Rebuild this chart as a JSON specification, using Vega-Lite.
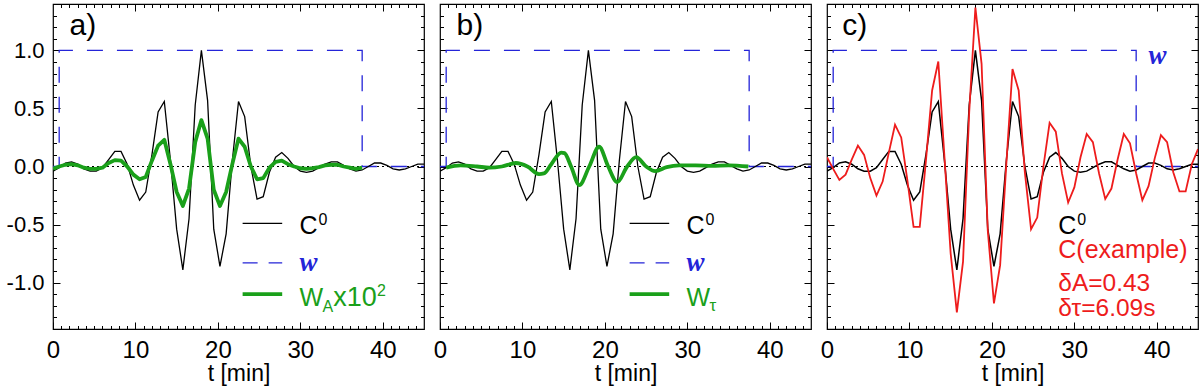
{
  "$schema": "https://vega.github.io/schema/vega-lite/v6.json",
  "padding": {"left": 5, "top": 2, "right": 0, "bottom": 0},
  "spacing": 16,
  "bounds": "flush",
  "config": {
    "view": {"stroke": "black", "strokeWidth": 1.2},
    "font": "Liberation Sans",
    "axis": {"domainColor": "black", "tickColor": "black", "labelColor": "black", "titleColor": "black", "grid": false, "labelFont": "Liberation Sans", "titleFont": "Liberation Sans", "titleFontWeight": "normal", "labelFontSize": 22, "titleFontSize": 23, "tickWidth": 1, "labelOverlap": false, "labelFlush": false, "domain": false, "title": null, "minExtent": 0}
  },
  "datasets": {
    "one": [{}],
    "c0": [
      {"t":0,"v":-0.04},{"t":0.75,"v":-0.01},{"t":1.5,"v":0.03},{"t":2.25,"v":0.04},{"t":3,"v":0.02},{"t":3.75,"v":-0.02},{"t":4.5,"v":-0.04},{"t":5.25,"v":-0.04},{"t":6,"v":-0.01},{"t":6.75,"v":0.06},{"t":7.5,"v":0.13},{"t":8.25,"v":0.13},{"t":9,"v":0.02},{"t":9.75,"v":-0.16},{"t":10.5,"v":-0.29},{"t":11.25,"v":-0.22},{"t":12,"v":0.1},{"t":12.75,"v":0.47},{"t":13.5,"v":0.56},{"t":14.25,"v":0.05},{"t":15,"v":-0.54},{"t":15.75,"v":-0.89},{"t":16.5,"v":-0.45},{"t":17.25,"v":0.53},{"t":18,"v":1.0},{"t":18.75,"v":0.57},{"t":19.5,"v":-0.54},{"t":20.25,"v":-0.86},{"t":21,"v":-0.58},{"t":21.75,"v":0.05},{"t":22.5,"v":0.56},{"t":23.25,"v":0.43},{"t":24,"v":0.0},{"t":24.75,"v":-0.28},{"t":25.5,"v":-0.26},{"t":26.25,"v":-0.05},{"t":27,"v":0.08},{"t":27.75,"v":0.12},{"t":28.5,"v":0.07},{"t":29.25,"v":0.0},{"t":30,"v":-0.04},{"t":30.75,"v":-0.05},{"t":31.5,"v":-0.04},{"t":32.25,"v":-0.01},{"t":33,"v":0.02},{"t":33.75,"v":0.04},{"t":34.5,"v":0.04},{"t":35.25,"v":0.01},{"t":36,"v":-0.02},{"t":36.75,"v":-0.04},{"t":37.5,"v":-0.03},{"t":38.25,"v":0.0},{"t":39,"v":0.03},{"t":39.75,"v":0.03},{"t":40.5,"v":0.01},{"t":41.25,"v":-0.02},{"t":42,"v":-0.03},{"t":42.75,"v":-0.02},{"t":43.5,"v":0.0},{"t":44.25,"v":0.02},{"t":45,"v":0.02}
    ],
    "wa": [
      {"t":0,"v":-0.02},{"t":0.75,"v":0.0},{"t":1.5,"v":0.015},{"t":2.25,"v":0.02},{"t":3,"v":0.01},{"t":3.75,"v":-0.01},{"t":4.5,"v":-0.02},{"t":5.25,"v":-0.02},{"t":6,"v":-0.01},{"t":6.75,"v":0.03},{"t":7.5,"v":0.055},{"t":8.25,"v":0.05},{"t":9,"v":0.0},{"t":9.75,"v":-0.07},{"t":10.5,"v":-0.11},{"t":11.25,"v":-0.09},{"t":12,"v":0.05},{"t":12.75,"v":0.18},{"t":13.5,"v":0.23},{"t":14.25,"v":0.02},{"t":15,"v":-0.22},{"t":15.75,"v":-0.34},{"t":16.5,"v":-0.19},{"t":17.25,"v":0.21},{"t":18,"v":0.4},{"t":18.75,"v":0.24},{"t":19.5,"v":-0.2},{"t":20.25,"v":-0.34},{"t":21,"v":-0.22},{"t":21.75,"v":0.02},{"t":22.5,"v":0.24},{"t":23.25,"v":0.17},{"t":24,"v":0.0},{"t":24.75,"v":-0.11},{"t":25.5,"v":-0.1},{"t":26.25,"v":-0.01},{"t":27,"v":0.04},{"t":27.75,"v":0.05},{"t":28.5,"v":0.02},{"t":29.25,"v":0.0},{"t":30,"v":-0.015},{"t":30.75,"v":-0.02},{"t":31.5,"v":-0.015},{"t":32.25,"v":-0.005},{"t":33,"v":0.01},{"t":33.75,"v":0.015},{"t":34.5,"v":0.015},{"t":35.25,"v":0.0},{"t":36,"v":-0.01},{"t":36.75,"v":-0.02},{"t":37.5,"v":-0.01}
    ],
    "wt": [
      {"t":0.75,"v":-0.01},{"t":2.5,"v":0.01},{"t":4.5,"v":0.0},{"t":6,"v":-0.01},{"t":7.5,"v":0.0},{"t":9.2,"v":0.03},{"t":10.6,"v":0.0},{"t":12,"v":-0.065},{"t":12.6,"v":-0.06},{"t":13.5,"v":0.02},{"t":14.7,"v":0.12},{"t":15.1,"v":0.115},{"t":15.9,"v":0.0},{"t":16.9,"v":-0.16},{"t":18.1,"v":0.0},{"t":19.3,"v":0.17},{"t":20.4,"v":0.0},{"t":21.5,"v":-0.135},{"t":22.7,"v":0.0},{"t":23.8,"v":0.08},{"t":25,"v":0.0},{"t":26.1,"v":-0.04},{"t":27.5,"v":-0.005},{"t":29,"v":0.01},{"t":31,"v":0.01},{"t":33,"v":0.005},{"t":35,"v":0.01},{"t":37.4,"v":0.0}
    ],
    "cex": [
      {"t":0,"v":0.08},{"t":0.75,"v":-0.02},{"t":1.5,"v":-0.115},{"t":2.25,"v":-0.07},{"t":3,"v":0.06},{"t":3.75,"v":0.18},{"t":4.5,"v":0.1},{"t":5.25,"v":-0.1},{"t":6,"v":-0.25},{"t":6.75,"v":-0.13},{"t":7.5,"v":0.12},{"t":8.25,"v":0.36},{"t":9,"v":0.25},{"t":9.75,"v":-0.12},{"t":10.5,"v":-0.52},{"t":11.25,"v":-0.52},{"t":12,"v":0.05},{"t":12.75,"v":0.655},{"t":13.5,"v":0.905},{"t":14.25,"v":0.08},{"t":15,"v":-0.75},{"t":15.75,"v":-1.256},{"t":16.5,"v":-0.82},{"t":17.25,"v":0.47},{"t":18,"v":1.37},{"t":18.75,"v":0.885},{"t":19.5,"v":-0.55},{"t":20.25,"v":-1.18},{"t":21,"v":-0.85},{"t":21.75,"v":0.02},{"t":22.5,"v":0.84},{"t":23.25,"v":0.655},{"t":24,"v":-0.05},{"t":24.75,"v":-0.54},{"t":25.5,"v":-0.44},{"t":26.25,"v":0.0},{"t":27,"v":0.376},{"t":27.75,"v":0.3},{"t":28.5,"v":-0.06},{"t":29.25,"v":-0.31},{"t":30,"v":-0.18},{"t":30.75,"v":0.08},{"t":31.5,"v":0.28},{"t":32.25,"v":0.21},{"t":33,"v":-0.06},{"t":33.75,"v":-0.28},{"t":34.5,"v":-0.19},{"t":35.25,"v":0.06},{"t":36,"v":0.28},{"t":36.75,"v":0.2},{"t":37.5,"v":-0.06},{"t":38.25,"v":-0.29},{"t":39,"v":-0.17},{"t":39.75,"v":0.07},{"t":40.5,"v":0.27},{"t":41.25,"v":0.21},{"t":42,"v":-0.05},{"t":42.75,"v":-0.215},{"t":43.5,"v":-0.215},{"t":44.25,"v":0.02},{"t":45,"v":0.15}
    ],
    "w": [
      {"i":0,"t":0,"v":0},{"i":1,"t":0.75,"v":0},{"i":2,"t":0.75,"v":1},{"i":3,"t":37.5,"v":1},{"i":4,"t":37.5,"v":0},{"i":5,"t":45,"v":0}
    ]
  },
  "hconcat": [
    {
      "width": 371, "height": 325,
      "layer": [
        {"data": {"name": "one"}, "mark": {"type": "rule", "strokeDash": [2, 3], "color": "black", "strokeWidth": 1}, "encoding": {"y": {"datum": 0, "type": "quantitative", "axis": null}}},
        {"data": {"name": "c0"}, "mark": {"type": "point", "opacity": 0, "size": 0, "clip": true},
         "encoding": {
          "x": {"field": "t", "type": "quantitative", "scale": {"domain": [0, 45], "nice": false, "zero": false}, "axis": {"orient": "bottom", "values": [1,2,3,4,5,6,7,8,9,11,12,13,14,15,16,17,18,19,21,22,23,24,25,26,27,28,29,31,32,33,34,35,36,37,38,39,41,42,43,44], "labels": false, "tickSize": -3.5}},
          "y": {"field": "v", "type": "quantitative", "scale": {"domain": [-1.4, 1.4], "nice": false, "zero": false}, "axis": {"orient": "left", "values": [-1.3,-1.2,-1.1,-0.9,-0.8,-0.7,-0.6,-0.4,-0.3,-0.2,-0.1,0.1,0.2,0.3,0.4,0.6,0.7,0.8,0.9,1.1,1.2,1.3], "labels": false, "tickSize": -3.5}}}},
        {"data": {"name": "c0"}, "mark": {"type": "point", "opacity": 0, "size": 0, "clip": true},
         "encoding": {
          "x": {"field": "t", "type": "quantitative", "scale": {"domain": [0, 45], "nice": false, "zero": false}, "axis": {"orient": "top", "values": [1,2,3,4,5,6,7,8,9,11,12,13,14,15,16,17,18,19,21,22,23,24,25,26,27,28,29,31,32,33,34,35,36,37,38,39,41,42,43,44], "labels": false, "tickSize": -3.5}},
          "y": {"field": "v", "type": "quantitative", "scale": {"domain": [-1.4, 1.4], "nice": false, "zero": false}, "axis": {"orient": "right", "values": [-1.3,-1.2,-1.1,-0.9,-0.8,-0.7,-0.6,-0.4,-0.3,-0.2,-0.1,0.1,0.2,0.3,0.4,0.6,0.7,0.8,0.9,1.1,1.2,1.3], "labels": false, "tickSize": -3.5}}}},
        {"data": {"name": "w"}, "mark": {"type": "line", "color": "#2424d8", "strokeDash": [16, 14], "strokeWidth": 1.3, "clip": true},
         "encoding": {
          "x": {"field": "t", "type": "quantitative", "scale": {"domain": [0, 45], "nice": false, "zero": false}, "axis": {"orient": "top", "values": [10, 20, 30, 40], "labels": false, "tickSize": -7}},
          "y": {"field": "v", "type": "quantitative", "scale": {"domain": [-1.4, 1.4], "nice": false, "zero": false}, "axis": {"orient": "right", "values": [-1, -0.5, 0, 0.5, 1], "labels": false, "tickSize": -7}},
          "order": {"field": "i"}}},
        {"data": {"name": "c0"}, "mark": {"type": "line", "color": "black", "strokeWidth": 1.3, "clip": true},
         "encoding": {
          "x": {"field": "t", "type": "quantitative", "scale": {"domain": [0, 45], "nice": false, "zero": false}, "axis": {"orient": "bottom", "values": [0, 10, 20, 30, 40], "labelFontSize": 24, "labelPadding": 16, "tickSize": -7, "title": "t [min]", "titlePadding": 0}},
          "y": {"field": "v", "type": "quantitative", "scale": {"domain": [-1.4, 1.4], "nice": false, "zero": false}, "axis": {"orient": "left", "values": [-1, -0.5, 0, 0.5, 1], "labelExpr": "(datum.value < -0.01 ? '-' : '') + format(abs(datum.value), '.1f')", "labelPadding": 16, "tickSize": -7}}}},
        {"data": {"name": "wa"}, "mark": {"type": "line", "color": "#1aa01a", "strokeWidth": 3.8, "strokeJoin": "round", "clip": true},
         "encoding": {"x": {"field": "t", "type": "quantitative", "axis": null}, "y": {"field": "v", "type": "quantitative", "axis": null}}},
        {"data": {"name": "one"}, "mark": {"type": "rule", "color": "black", "strokeWidth": 1.3}, "encoding": {"x": {"datum": 23.0, "type": "quantitative", "axis": null}, "x2": {"datum": 27.8}, "y": {"datum": -0.49, "type": "quantitative", "axis": null}}},
        {"data": {"name": "one"}, "mark": {"type": "rule", "color": "#2424d8", "strokeWidth": 1.3, "strokeDash": [15, 11]}, "encoding": {"x": {"datum": 23.0, "type": "quantitative", "axis": null}, "x2": {"datum": 27.8}, "y": {"datum": -0.83, "type": "quantitative", "axis": null}}},
        {"data": {"name": "one"}, "mark": {"type": "rule", "color": "#1aa01a", "strokeWidth": 3.8}, "encoding": {"x": {"datum": 23.0, "type": "quantitative", "axis": null}, "x2": {"datum": 27.8}, "y": {"datum": -1.10, "type": "quantitative", "axis": null}}},
        {"data": {"name": "one"}, "mark": {"type": "text", "text": "a)", "fontSize": 30, "align": "left", "baseline": "alphabetic", "color": "black"}, "encoding": {"x": {"datum": 2.0, "type": "quantitative", "axis": null}, "y": {"datum": 1.13, "type": "quantitative", "axis": null}}},
        {"data": {"name": "one"}, "mark": {"type": "text", "text": "C", "fontSize": 25, "align": "left", "baseline": "middle", "color": "black"}, "encoding": {"x": {"datum": 29.9, "type": "quantitative", "axis": null}, "y": {"datum": -0.51, "type": "quantitative", "axis": null}}},
        {"data": {"name": "one"}, "mark": {"type": "text", "text": "0", "fontSize": 16, "align": "left", "baseline": "middle", "color": "black"}, "encoding": {"x": {"datum": 32.2, "type": "quantitative", "axis": null}, "y": {"datum": -0.46, "type": "quantitative", "axis": null}}},
        {"data": {"name": "one"}, "mark": {"type": "text", "text": "w", "fontSize": 27, "font": "Liberation Serif", "fontStyle": "italic", "fontWeight": "bold", "align": "left", "baseline": "middle", "color": "#2424d8"}, "encoding": {"x": {"datum": 29.9, "type": "quantitative", "axis": null}, "y": {"datum": -0.83, "type": "quantitative", "axis": null}}},
        {"data": {"name": "one"}, "mark": {"type": "text", "text": "W", "fontSize": 25, "align": "left", "baseline": "middle", "color": "#1aa01a"}, "encoding": {"x": {"datum": 29.9, "type": "quantitative", "axis": null}, "y": {"datum": -1.135, "type": "quantitative", "axis": null}}},
        {"data": {"name": "one"}, "mark": {"type": "text", "text": "A", "fontSize": 16, "align": "left", "baseline": "middle", "color": "#1aa01a"}, "encoding": {"x": {"datum": 32.7, "type": "quantitative", "axis": null}, "y": {"datum": -1.21, "type": "quantitative", "axis": null}}},
        {"data": {"name": "one"}, "mark": {"type": "text", "text": "x10", "fontSize": 27, "align": "left", "baseline": "middle", "color": "#1aa01a"}, "encoding": {"x": {"datum": 34.0, "type": "quantitative", "axis": null}, "y": {"datum": -1.135, "type": "quantitative", "axis": null}}},
        {"data": {"name": "one"}, "mark": {"type": "text", "text": "2", "fontSize": 16, "align": "left", "baseline": "middle", "color": "#1aa01a"}, "encoding": {"x": {"datum": 39.3, "type": "quantitative", "axis": null}, "y": {"datum": -1.07, "type": "quantitative", "axis": null}}}
      ],
      "resolve": {"axis": {"x": "independent", "y": "independent"}}
    },
    {
      "width": 371, "height": 325,
      "layer": [
        {"data": {"name": "one"}, "mark": {"type": "rule", "strokeDash": [2, 3], "color": "black", "strokeWidth": 1}, "encoding": {"y": {"datum": 0, "type": "quantitative", "axis": null}}},
        {"data": {"name": "c0"}, "mark": {"type": "point", "opacity": 0, "size": 0, "clip": true},
         "encoding": {
          "x": {"field": "t", "type": "quantitative", "scale": {"domain": [0, 45], "nice": false, "zero": false}, "axis": {"orient": "bottom", "values": [1,2,3,4,5,6,7,8,9,11,12,13,14,15,16,17,18,19,21,22,23,24,25,26,27,28,29,31,32,33,34,35,36,37,38,39,41,42,43,44], "labels": false, "tickSize": -3.5}},
          "y": {"field": "v", "type": "quantitative", "scale": {"domain": [-1.4, 1.4], "nice": false, "zero": false}, "axis": {"orient": "left", "values": [-1.3,-1.2,-1.1,-0.9,-0.8,-0.7,-0.6,-0.4,-0.3,-0.2,-0.1,0.1,0.2,0.3,0.4,0.6,0.7,0.8,0.9,1.1,1.2,1.3], "labels": false, "tickSize": -3.5}}}},
        {"data": {"name": "c0"}, "mark": {"type": "point", "opacity": 0, "size": 0, "clip": true},
         "encoding": {
          "x": {"field": "t", "type": "quantitative", "scale": {"domain": [0, 45], "nice": false, "zero": false}, "axis": {"orient": "top", "values": [1,2,3,4,5,6,7,8,9,11,12,13,14,15,16,17,18,19,21,22,23,24,25,26,27,28,29,31,32,33,34,35,36,37,38,39,41,42,43,44], "labels": false, "tickSize": -3.5}},
          "y": {"field": "v", "type": "quantitative", "scale": {"domain": [-1.4, 1.4], "nice": false, "zero": false}, "axis": {"orient": "right", "values": [-1.3,-1.2,-1.1,-0.9,-0.8,-0.7,-0.6,-0.4,-0.3,-0.2,-0.1,0.1,0.2,0.3,0.4,0.6,0.7,0.8,0.9,1.1,1.2,1.3], "labels": false, "tickSize": -3.5}}}},
        {"data": {"name": "w"}, "mark": {"type": "line", "color": "#2424d8", "strokeDash": [16, 14], "strokeWidth": 1.3, "clip": true},
         "encoding": {
          "x": {"field": "t", "type": "quantitative", "scale": {"domain": [0, 45], "nice": false, "zero": false}, "axis": {"orient": "top", "values": [10, 20, 30, 40], "labels": false, "tickSize": -7}},
          "y": {"field": "v", "type": "quantitative", "scale": {"domain": [-1.4, 1.4], "nice": false, "zero": false}, "axis": {"orient": "right", "values": [-1, -0.5, 0, 0.5, 1], "labels": false, "tickSize": -7}},
          "order": {"field": "i"}}},
        {"data": {"name": "c0"}, "mark": {"type": "line", "color": "black", "strokeWidth": 1.3, "clip": true},
         "encoding": {
          "x": {"field": "t", "type": "quantitative", "scale": {"domain": [0, 45], "nice": false, "zero": false}, "axis": {"orient": "bottom", "values": [0, 10, 20, 30, 40], "labelFontSize": 24, "labelPadding": 16, "tickSize": -7, "title": "t [min]", "titlePadding": 0}},
          "y": {"field": "v", "type": "quantitative", "scale": {"domain": [-1.4, 1.4], "nice": false, "zero": false}, "axis": {"orient": "left", "values": [-1, -0.5, 0, 0.5, 1], "labels": false, "tickSize": -7}}}},
        {"data": {"name": "wt"}, "mark": {"type": "line", "color": "#1aa01a", "strokeWidth": 3.8, "strokeJoin": "round", "interpolate": "monotone", "clip": true},
         "encoding": {"x": {"field": "t", "type": "quantitative", "axis": null}, "y": {"field": "v", "type": "quantitative", "axis": null}}},
        {"data": {"name": "one"}, "mark": {"type": "rule", "color": "black", "strokeWidth": 1.3}, "encoding": {"x": {"datum": 23.0, "type": "quantitative", "axis": null}, "x2": {"datum": 27.8}, "y": {"datum": -0.49, "type": "quantitative", "axis": null}}},
        {"data": {"name": "one"}, "mark": {"type": "rule", "color": "#2424d8", "strokeWidth": 1.3, "strokeDash": [15, 11]}, "encoding": {"x": {"datum": 23.0, "type": "quantitative", "axis": null}, "x2": {"datum": 27.8}, "y": {"datum": -0.83, "type": "quantitative", "axis": null}}},
        {"data": {"name": "one"}, "mark": {"type": "rule", "color": "#1aa01a", "strokeWidth": 3.8}, "encoding": {"x": {"datum": 23.0, "type": "quantitative", "axis": null}, "x2": {"datum": 27.8}, "y": {"datum": -1.10, "type": "quantitative", "axis": null}}},
        {"data": {"name": "one"}, "mark": {"type": "text", "text": "b)", "fontSize": 30, "align": "left", "baseline": "alphabetic", "color": "black"}, "encoding": {"x": {"datum": 2.0, "type": "quantitative", "axis": null}, "y": {"datum": 1.13, "type": "quantitative", "axis": null}}},
        {"data": {"name": "one"}, "mark": {"type": "text", "text": "C", "fontSize": 25, "align": "left", "baseline": "middle", "color": "black"}, "encoding": {"x": {"datum": 29.9, "type": "quantitative", "axis": null}, "y": {"datum": -0.51, "type": "quantitative", "axis": null}}},
        {"data": {"name": "one"}, "mark": {"type": "text", "text": "0", "fontSize": 16, "align": "left", "baseline": "middle", "color": "black"}, "encoding": {"x": {"datum": 32.2, "type": "quantitative", "axis": null}, "y": {"datum": -0.46, "type": "quantitative", "axis": null}}},
        {"data": {"name": "one"}, "mark": {"type": "text", "text": "w", "fontSize": 27, "font": "Liberation Serif", "fontStyle": "italic", "fontWeight": "bold", "align": "left", "baseline": "middle", "color": "#2424d8"}, "encoding": {"x": {"datum": 29.9, "type": "quantitative", "axis": null}, "y": {"datum": -0.83, "type": "quantitative", "axis": null}}},
        {"data": {"name": "one"}, "mark": {"type": "text", "text": "W", "fontSize": 25, "align": "left", "baseline": "middle", "color": "#1aa01a"}, "encoding": {"x": {"datum": 29.9, "type": "quantitative", "axis": null}, "y": {"datum": -1.135, "type": "quantitative", "axis": null}}},
        {"data": {"name": "one"}, "mark": {"type": "text", "text": "τ", "fontSize": 17, "align": "left", "baseline": "middle", "color": "#1aa01a"}, "encoding": {"x": {"datum": 32.7, "type": "quantitative", "axis": null}, "y": {"datum": -1.2, "type": "quantitative", "axis": null}}}
      ],
      "resolve": {"axis": {"x": "independent", "y": "independent"}}
    },
    {
      "width": 371, "height": 325,
      "layer": [
        {"data": {"name": "one"}, "mark": {"type": "rule", "strokeDash": [2, 3], "color": "black", "strokeWidth": 1}, "encoding": {"y": {"datum": 0, "type": "quantitative", "axis": null}}},
        {"data": {"name": "c0"}, "mark": {"type": "point", "opacity": 0, "size": 0, "clip": true},
         "encoding": {
          "x": {"field": "t", "type": "quantitative", "scale": {"domain": [0, 45], "nice": false, "zero": false}, "axis": {"orient": "bottom", "values": [1,2,3,4,5,6,7,8,9,11,12,13,14,15,16,17,18,19,21,22,23,24,25,26,27,28,29,31,32,33,34,35,36,37,38,39,41,42,43,44], "labels": false, "tickSize": -3.5}},
          "y": {"field": "v", "type": "quantitative", "scale": {"domain": [-1.4, 1.4], "nice": false, "zero": false}, "axis": {"orient": "left", "values": [-1.3,-1.2,-1.1,-0.9,-0.8,-0.7,-0.6,-0.4,-0.3,-0.2,-0.1,0.1,0.2,0.3,0.4,0.6,0.7,0.8,0.9,1.1,1.2,1.3], "labels": false, "tickSize": -3.5}}}},
        {"data": {"name": "c0"}, "mark": {"type": "point", "opacity": 0, "size": 0, "clip": true},
         "encoding": {
          "x": {"field": "t", "type": "quantitative", "scale": {"domain": [0, 45], "nice": false, "zero": false}, "axis": {"orient": "top", "values": [1,2,3,4,5,6,7,8,9,11,12,13,14,15,16,17,18,19,21,22,23,24,25,26,27,28,29,31,32,33,34,35,36,37,38,39,41,42,43,44], "labels": false, "tickSize": -3.5}},
          "y": {"field": "v", "type": "quantitative", "scale": {"domain": [-1.4, 1.4], "nice": false, "zero": false}, "axis": {"orient": "right", "values": [-1.3,-1.2,-1.1,-0.9,-0.8,-0.7,-0.6,-0.4,-0.3,-0.2,-0.1,0.1,0.2,0.3,0.4,0.6,0.7,0.8,0.9,1.1,1.2,1.3], "labels": false, "tickSize": -3.5}}}},
        {"data": {"name": "w"}, "mark": {"type": "line", "color": "#2424d8", "strokeDash": [16, 14], "strokeWidth": 1.3, "clip": true},
         "encoding": {
          "x": {"field": "t", "type": "quantitative", "scale": {"domain": [0, 45], "nice": false, "zero": false}, "axis": {"orient": "top", "values": [10, 20, 30, 40], "labels": false, "tickSize": -7}},
          "y": {"field": "v", "type": "quantitative", "scale": {"domain": [-1.4, 1.4], "nice": false, "zero": false}, "axis": {"orient": "right", "values": [-1, -0.5, 0, 0.5, 1], "labels": false, "tickSize": -7}},
          "order": {"field": "i"}}},
        {"data": {"name": "c0"}, "mark": {"type": "line", "color": "black", "strokeWidth": 1.5, "clip": true},
         "encoding": {
          "x": {"field": "t", "type": "quantitative", "scale": {"domain": [0, 45], "nice": false, "zero": false}, "axis": {"orient": "bottom", "values": [0, 10, 20, 30, 40], "labelFontSize": 24, "labelPadding": 16, "tickSize": -7, "title": "t [min]", "titlePadding": 0}},
          "y": {"field": "v", "type": "quantitative", "scale": {"domain": [-1.4, 1.4], "nice": false, "zero": false}, "axis": {"orient": "left", "values": [-1, -0.5, 0, 0.5, 1], "labels": false, "tickSize": -7}}}},
        {"data": {"name": "cex"}, "mark": {"type": "line", "color": "#ee1c1c", "strokeWidth": 1.8, "clip": true},
         "encoding": {"x": {"field": "t", "type": "quantitative", "axis": null}, "y": {"field": "v", "type": "quantitative", "axis": null}}},
        {"data": {"name": "one"}, "mark": {"type": "text", "text": "c)", "fontSize": 30, "align": "left", "baseline": "alphabetic", "color": "black"}, "encoding": {"x": {"datum": 1.85, "type": "quantitative", "axis": null}, "y": {"datum": 1.13, "type": "quantitative", "axis": null}}},
        {"data": {"name": "one"}, "mark": {"type": "text", "text": "w", "fontSize": 27, "font": "Liberation Serif", "fontStyle": "italic", "fontWeight": "bold", "align": "left", "baseline": "middle", "color": "#2424d8"}, "encoding": {"x": {"datum": 39.0, "type": "quantitative", "axis": null}, "y": {"datum": 0.95, "type": "quantitative", "axis": null}}},
        {"data": {"name": "one"}, "mark": {"type": "text", "text": "C", "fontSize": 25, "align": "left", "baseline": "middle", "color": "black"}, "encoding": {"x": {"datum": 28.05, "type": "quantitative", "axis": null}, "y": {"datum": -0.515, "type": "quantitative", "axis": null}}},
        {"data": {"name": "one"}, "mark": {"type": "text", "text": "0", "fontSize": 16, "align": "left", "baseline": "middle", "color": "black"}, "encoding": {"x": {"datum": 30.35, "type": "quantitative", "axis": null}, "y": {"datum": -0.46, "type": "quantitative", "axis": null}}},
        {"data": {"name": "one"}, "mark": {"type": "text", "text": "C(example)", "fontSize": 25, "align": "left", "baseline": "middle", "color": "#ee1c1c"}, "encoding": {"x": {"datum": 28.05, "type": "quantitative", "axis": null}, "y": {"datum": -0.72, "type": "quantitative", "axis": null}}},
        {"data": {"name": "one"}, "mark": {"type": "text", "text": "δA=0.43", "fontSize": 24.5, "align": "left", "baseline": "middle", "color": "#ee1c1c"}, "encoding": {"x": {"datum": 28.05, "type": "quantitative", "axis": null}, "y": {"datum": -1.015, "type": "quantitative", "axis": null}}},
        {"data": {"name": "one"}, "mark": {"type": "text", "text": "δτ=6.09s", "fontSize": 24.5, "align": "left", "baseline": "middle", "color": "#ee1c1c"}, "encoding": {"x": {"datum": 28.05, "type": "quantitative", "axis": null}, "y": {"datum": -1.225, "type": "quantitative", "axis": null}}}
      ],
      "resolve": {"axis": {"x": "independent", "y": "independent"}}
    }
  ]
}
